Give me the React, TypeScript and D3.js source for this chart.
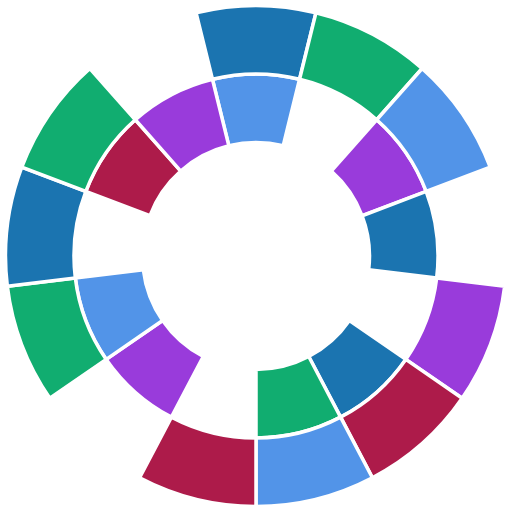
import React from "react";
import * as d3 from "d3";

const sectors = ["S1", "S2", "S3", "S4", "S5", "S6", "S7", "S8", "S9", "S10", "S11", "S12", "S13"];
const rings = ["inner", "outer"];
const innerRing: (string | null)[] = ["lightBlue", null, "purple", "blue", null, "blue", "green", null, "purple", "lightBlue", null, "crimson", "purple"];
const outerRing: (string | null)[] = ["blue", "green", "lightBlue", null, "purple", "crimson", "lightBlue", "crimson", null, "green", "blue", "green", null];
const colorKeys = ["blue", "green", "lightBlue", "purple", "crimson"];
const colorValues = ["#1B74B0", "#11AD70", "#5294E8", "#993BDB", "#AD1B4A"];

export default function App() {
  const W = 512, H = 512;
  const cx = 256, cy = 256;
  const step = (2 * Math.PI) / sectors.length;
  const angle = d3.scaleBand<string>().domain(sectors).range([-step / 2, 2 * Math.PI - step / 2]);
  const radius = d3.scaleBand<string>().domain(rings).range([113.5, 250.5]).paddingInner(0);
  const color = d3.scaleOrdinal<string, string>().domain(colorKeys).range(colorValues);
  const arc = d3.arc<any>();
  const data = [innerRing, outerRing];
  const cells: { key: string; d: string; fill: string }[] = [];
  data.forEach((ring, ri) => {
    ring.forEach((c, si) => {
      if (!c) return;
      const a0 = angle(sectors[si])!;
      const r0 = radius(rings[ri])!;
      const d = arc({
        innerRadius: r0,
        outerRadius: r0 + radius.bandwidth(),
        startAngle: a0,
        endAngle: a0 + angle.bandwidth(),
      }) as string;
      cells.push({ key: `${ri}-${si}`, d, fill: color(c) });
    });
  });
  return (
    <svg width={W} height={H} style={{ position: "absolute", left: 0, top: 0 }}>
      <rect width={W} height={H} fill="#fff" />
      <g transform={`translate(${cx},${cy})`}>
        {cells.map((c) => (
          <path key={c.key} d={c.d} fill={c.fill} stroke="#fff" strokeWidth={3.5} strokeLinejoin="miter" />
        ))}
      </g>
    </svg>
  );
}
